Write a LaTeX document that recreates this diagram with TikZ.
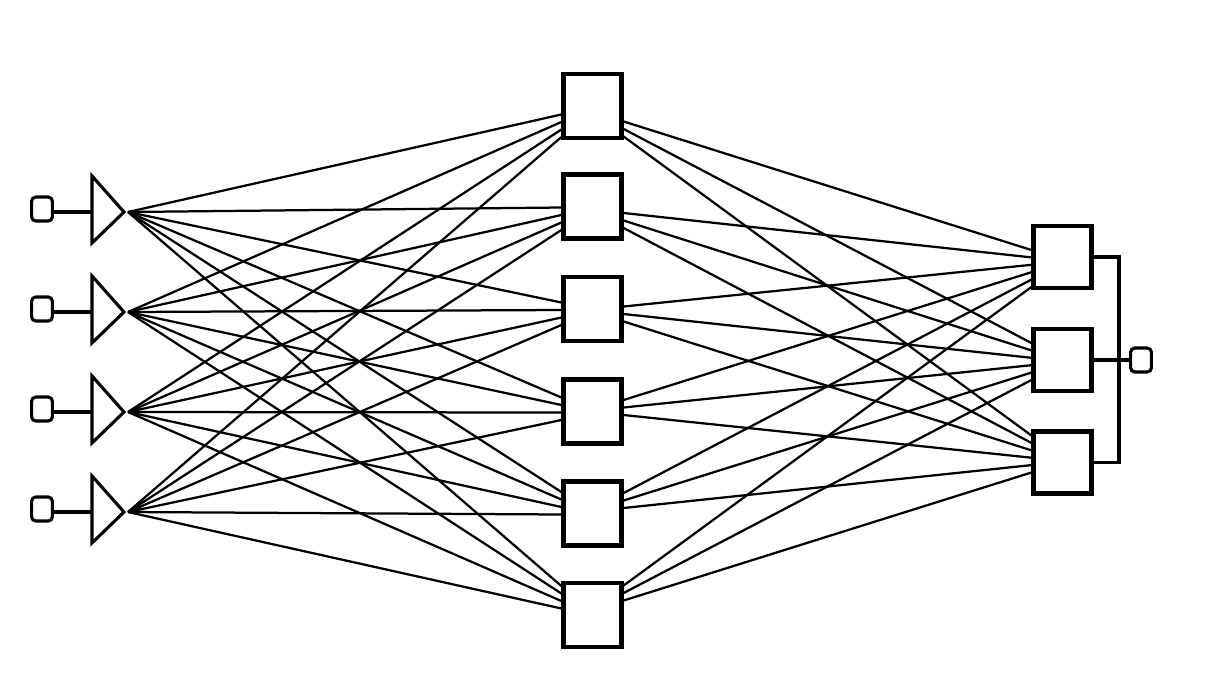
\documentclass[tikz,border=0pt]{standalone}
\usetikzlibrary{calc}
\tikzset{>=latex}
\tikzset{
  unit/.style={draw,line width=3pt,minimum width=1.45cm,minimum height=1.6cm,inner sep=0pt},
  port/.style={draw,line width=2.2pt,rounded corners=3pt,minimum width=0.52cm,minimum height=0.6cm,inner sep=0pt},
  wire/.style={line width=1.6pt}
}
\begin{document}
\begin{tikzpicture}[x=0.025cm,y=-0.025cm]
    \useasboundingbox (0,0) rectangle (1220,697);
    % inputs and fan-out
    \foreach \i/\y in {1/212,2/312,3/412,4/512} {
        \node[port] (in\i) at (42,\y-3) {};
        \coordinate (t\i) at (92,\y);
        \coordinate (f\i) at (128,\y);
        \draw[line width=2.2pt] (92,\y-36) -- (124,\y) -- (92,\y+31) -- cycle;
        \draw[line width=2.2pt] (in\i.east |- t\i) -- (t\i);
    }
    % hidden layer
    \foreach \j/\y in {1/106,2/206.5,3/309,4/411.5,5/513.5,6/615}
        \node[unit] (h\j) at (592.5,\y) {};
    % output layer
    \foreach \k/\y in {1/257,2/360,3/462.5}
        \node[unit,minimum height=1.55cm] (o\k) at (1062.5,\y) {};
    \node[port] (out) at (1141,360) {};

    \foreach \i in {1,...,4}
        \foreach \j in {1,...,6}
            \draw[wire] (f\i) -- ($(h\j.west)+(0,{8.5+7.5*\i-7.5*\j})$);
    \foreach \j in {1,...,6}
        \foreach \k in {1,2,3}
            \draw[wire] ($(h\j.east)+(0,{17-9*\j+7.5*\k})$) -- ($(o\k.west)+(0,{-4.4-10*\k+7.4*\j})$);

    \coordinate (b) at (1119,360);
    \draw[line width=2.4pt] (o1.east) -| (b) |- (o3.east);
    \draw[line width=2.4pt] (o2.east) -- (out.west);
\end{tikzpicture}
\end{document}
